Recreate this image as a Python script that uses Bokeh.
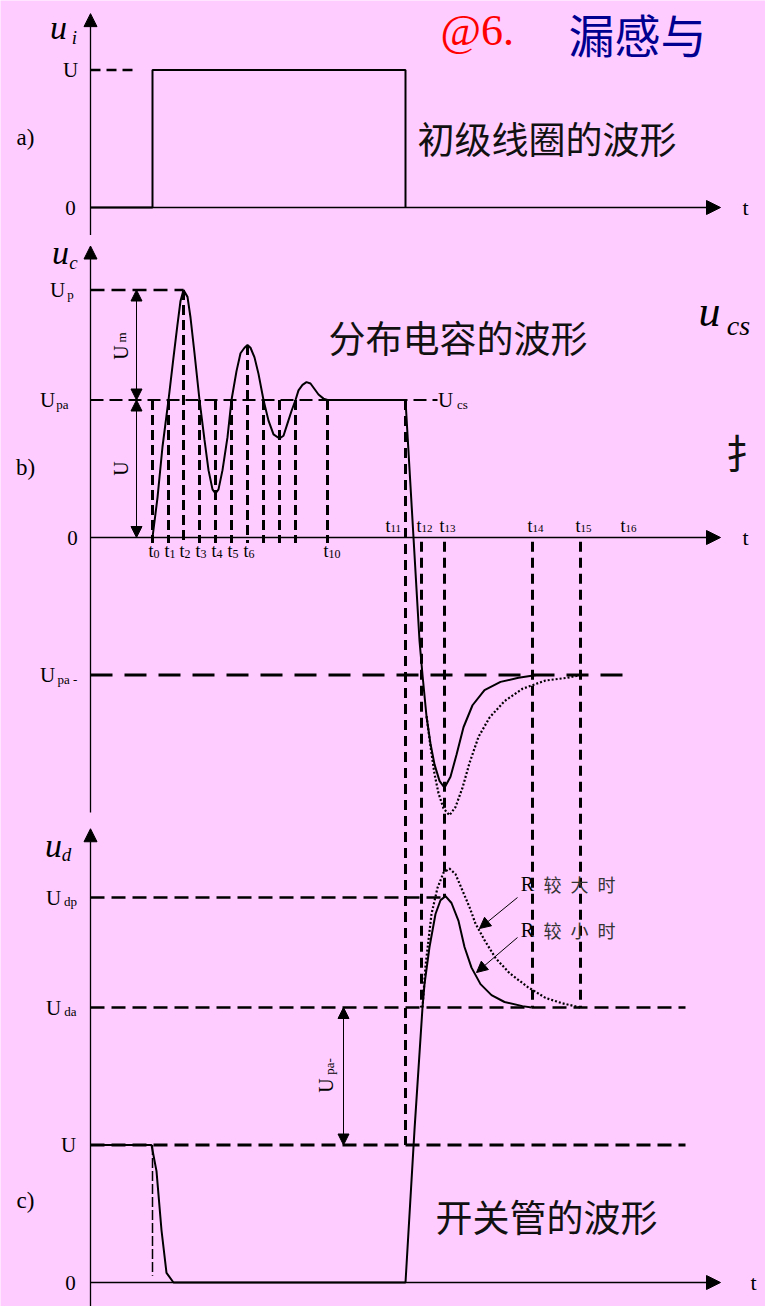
import math
import numpy as np
from bokeh.plotting import figure
from bokeh.models import Range1d, Arrow, NormalHead
from bokeh.core.properties import value
from bokeh.embed import file_html
from bokeh.resources import INLINE

# ---------------------------------------------------------------------------
# Waveform data.  Time runs along one shared axis (same scale for a, b, c);
# voltages are given in units of U for each trace.
# ---------------------------------------------------------------------------
T_START, T_END = 90, 720

# b) ringing instants t0 ... t10 (t7..t9 are unlabelled)
ring_times = [152, 168, 183, 199, 215, 231, 247, 263, 279, 295, 327]
ring_names = ["0", "1", "2", "3", "4", "5", "6", "", "", "", "10"]
# turn-off instants t11 ... t15, and the last marker t16
late_times = [405, 421, 444, 532, 580]
late_names = ["11", "12", "13", "14", "15"]
t16_time = 625

# a) primary winding voltage u_i
ui_t = [90, 152, 152, 405, 405]
ui_v = [0, 0, 1, 1, 0]

# b) distributed capacitance voltage u_c
Up, Upa, Upa_neg = 1.80, 1.00, -1.00
uc_t = [152, 157, 162, 168, 173, 177, 180, 183, 187, 190, 194, 199, 204, 208,
        212, 215, 218, 222, 227, 231, 236, 240, 244, 247, 250, 254, 258, 263,
        268, 273, 279, 283, 287, 291, 295, 298, 302, 306, 310, 314, 318, 323,
        327, 405, 413, 419, 422, 426, 430, 434, 439, 444, 450, 456, 463, 472,
        484, 500, 518, 536]
uc_v = [0.00, 0.29, 0.66, 1.00, 1.31, 1.55, 1.72, 1.80, 1.75, 1.60, 1.34, 1.00,
        0.71, 0.49, 0.35, 0.32, 0.35, 0.49, 0.73, 1.00, 1.21, 1.34, 1.38, 1.40,
        1.38, 1.31, 1.19, 1.00, 0.85, 0.75, 0.72, 0.74, 0.83, 0.92, 1.00, 1.07,
        1.11, 1.13, 1.12, 1.08, 1.04, 1.01, 1.00, 1.00, 0.00, -0.75, -1.00,
        -1.30, -1.50, -1.65, -1.77, -1.82, -1.74, -1.58, -1.38, -1.22, -1.11,
        -1.05, -1.02, -1.00]
# larger-R branch of the negative swing
uc_slow_t = [426, 430, 434, 438, 443, 449, 455, 462, 469, 478, 489, 504, 522,
             545, 567, 580]
uc_slow_v = [-1.30, -1.52, -1.72, -1.86, -1.97, -2.02, -1.96, -1.82, -1.64,
             -1.45, -1.31, -1.19, -1.10, -1.04, -1.02, -1.00]

# c) switch voltage u_d
U_sw, Uda, Udp = 1.00, 2.00, 2.80
ud_t = [90, 151, 156, 161, 166, 173, 405, 414, 422, 424, 429, 435, 440, 445,
        451, 458, 464, 471, 480, 491, 504, 522, 531]
ud_v = [1.00, 1.00, 0.81, 0.38, 0.07, 0.00, 0.00, 1.11, 2.00, 2.17, 2.44, 2.68,
        2.78, 2.81, 2.76, 2.63, 2.44, 2.29, 2.17, 2.09, 2.04, 2.01, 2.00]
ud_slow_t = [422, 425, 431, 437, 443, 449, 455, 462, 469, 475, 484, 495, 509,
             527, 545, 562, 580]
ud_slow_v = [2.00, 2.30, 2.68, 2.87, 2.98, 3.01, 2.97, 2.85, 2.73, 2.61, 2.49,
             2.36, 2.25, 2.15, 2.07, 2.03, 2.00]

# ---------------------------------------------------------------------------
# Layout: the three traces are stacked on one canvas, sharing one y scale.
# ---------------------------------------------------------------------------
W, H = 765, 1306
UNIT = 137.5                       # screen rows per U
ZERO_ROW = {"a": 207, "b": 537, "c": 1282}
BASE = {k: (ZERO_ROW["c"] - r) / UNIT for k, r in ZERO_ROW.items()}


def Y(panel, v):
    return BASE[panel] + np.asarray(v, dtype=float)


def PY(row):
    """screen row -> shared y, for placing annotation text"""
    return (ZERO_ROW["c"] - row) / UNIT


BG = "#FFCCFF"
SERIF = "Liberation Serif"
CJK = "Noto Sans CJK SC"

p = figure(width=W, height=H, x_range=Range1d(0, W), y_range=Range1d(PY(H), PY(0)),
           output_backend="svg", toolbar_location=None, min_border=0,
           x_axis_type=None, y_axis_type=None,
           background_fill_color=BG, border_fill_color=BG, outline_line_color=None)


def txt(x, y, s, size, font=SERIF, style="normal", align="center", color="black",
        angle=0.0, baseline="middle"):
    p.text(x=[x], y=[y], text=[s], text_font=value(font), text_font_size=f"{size}px",
           text_font_style=style, text_align=align, text_baseline=baseline,
           text_color=color, angle=angle)


def arrow(x0, y0, x1, y1, size=13, lw=1.3, both=False):
    head = dict(size=size, fill_color="black", line_color="black", line_width=1)
    p.add_layout(Arrow(x_start=x0, y_start=y0, x_end=x1, y_end=y1, line_width=lw,
                       line_color="black", end=NormalHead(**head),
                       start=NormalHead(**head) if both else None))


def hdash(panel, level, x0, x1, dash, lw):
    p.segment(x0=[x0], y0=[Y(panel, level)], x1=[x1], y1=[Y(panel, level)],
              line_color="black", line_width=lw, line_dash=dash)


# ---- axes ---------------------------------------------------------------
for panel, lo, hi in (("a", -0.2, 1.41), ("b", -2.0, 2.12), ("c", -0.18, 3.30)):
    arrow(T_START, Y(panel, lo), T_START, Y(panel, hi), size=13, lw=1.3)
    arrow(T_START, Y(panel, 0), T_END, Y(panel, 0), size=14, lw=1.3)

# ---- a) primary winding -------------------------------------------------
hdash("a", 1, T_START, 138, "10 6", 2.5)
p.line(ui_t, Y("a", ui_v), line_color="black", line_width=2)

# ---- b) distributed capacitance ------------------------------------------
hdash("b", Up, T_START, ring_times[2], "14 7", 2.5)
hdash("b", Upa, T_START, 437, "13 6", 2)
hdash("b", Upa_neg, T_START, 630, "22 12", 3)

ring_tops = np.maximum(Upa, np.interp(ring_times, uc_t, uc_v))
p.segment(x0=ring_times, y0=Y("b", ring_tops), x1=ring_times,
          y1=[Y("b", -0.04)] * len(ring_times),
          line_color="black", line_width=3, line_dash="10 5")

late_top = [Y("b", Upa)] + [Y("b", -0.03)] * 4
late_bottom = [Y("c", U_sw), Y("c", Uda), Y("c", Udp), Y("c", Uda), Y("c", Uda)]
p.segment(x0=late_times, y0=late_top, x1=late_times, y1=late_bottom,
          line_color="black", line_width=3, line_dash="10 6")

p.line(uc_t, Y("b", uc_v), line_color="black", line_width=2)
p.line(uc_slow_t, Y("b", uc_slow_v), line_color="black", line_width=2.2, line_dash="2 2")

arrow(136, Y("b", Upa), 136, Y("b", Up), size=11, lw=1, both=True)
arrow(136, Y("b", 0), 136, Y("b", Upa), size=11, lw=1, both=True)

# ---- c) switch ------------------------------------------------------------
hdash("c", Udp, T_START, late_times[2], "14 7", 2.5)
hdash("c", Uda, T_START, 685, "14 7", 2.5)
hdash("c", U_sw, T_START, 685, "14 7", 3)
p.segment(x0=[ring_times[0]], y0=[Y("c", U_sw)], x1=[ring_times[0]], y1=[Y("c", 0.05)],
          line_color="black", line_width=1.5, line_dash="10 3")

p.line(ud_t, Y("c", ud_v), line_color="black", line_width=2)
p.line(ud_slow_t, Y("c", ud_slow_v), line_color="black", line_width=2.2, line_dash="2 2")

arrow(343, Y("c", U_sw), 343, Y("c", Uda), size=11, lw=1, both=True)
arrow(517, PY(897), 479, PY(928), size=11, lw=1)
arrow(517, PY(937), 476, PY(972), size=11, lw=1)

# ---- text -----------------------------------------------------------------
# title line
txt(440, PY(30), "@6.", 44, align="left", color="#FF0000")
txt(568, PY(32), "漏感与", 46, font=CJK, align="left", color="#000090")

# a)
txt(58, PY(27), "u", 34, style="italic")
txt(74, PY(37), "i", 19, style="italic")
txt(70, Y("a", 1), "U", 21)
txt(70, Y("a", 0), "0", 21)
txt(25, PY(137), "a)", 23)
txt(417, PY(137), "初级线圈的波形", 37, font=CJK, align="left", color="#111111")
txt(745, Y("a", 0), "t", 22)

# b)
txt(60, PY(252), "u", 34, style="italic")
txt(73, PY(262), "c", 19, style="italic")
txt(57, Y("b", Up), "U", 21)
txt(70, Y("b", Up) - 0.03, "p", 13)
txt(47, Y("b", Upa), "U", 21)
txt(62, Y("b", Upa) - 0.03, "pa", 13)
txt(72, Y("b", 0), "0", 21)
txt(25, PY(467), "b)", 23)
txt(47, Y("b", Upa_neg), "U", 21)
txt(67, Y("b", Upa_neg) - 0.03, "pa -", 13)
txt(445, Y("b", Upa), "U", 21)
txt(462, Y("b", Upa) - 0.03, "cs", 13)
txt(328, PY(336), "分布电容的波形", 37, font=CJK, align="left", color="#111111")
txt(745, Y("b", 0), "t", 22)
txt(120, PY(352), "U", 20, angle=math.pi / 2)
txt(121, PY(337), "m", 13, angle=math.pi / 2)
txt(120, PY(468), "U", 20, angle=math.pi / 2)

for t, n in zip(ring_times, ring_names):
    if n:
        txt(t + 1, PY(550), "t", 18, align="right")
        txt(t + 1, PY(553), n, 12, align="left")
for t, n in zip(late_times + [t16_time], late_names + ["16"]):
    x = t - 15 if n == "11" else t
    txt(x, PY(525), "t", 18, align="right")
    txt(x, PY(528), n, 11, align="left")

txt(709, PY(311), "u", 44, style="italic")
txt(738, PY(325), "cs", 28, style="italic")
txt(765, PY(451), "扌", 40, font=CJK, align="right", color="#111111")

# c)
txt(53, PY(845), "u", 34, style="italic")
txt(66, PY(854), "d", 19, style="italic")
txt(53, Y("c", Udp), "U", 21)
txt(70, Y("c", Udp) - 0.03, "dp", 13)
txt(53, Y("c", Uda), "U", 21)
txt(70, Y("c", Uda) - 0.03, "da", 13)
txt(68, Y("c", U_sw), "U", 21)
txt(70, Y("c", 0), "0", 21)
txt(25, PY(1200), "c)", 23)
txt(753, Y("c", 0), "t", 22)
txt(325, PY(1085), "U", 20, angle=math.pi / 2)
txt(329, PY(1066), "pa-", 13, angle=math.pi / 2)
txt(527, PY(883), "R", 20)
txt(543, PY(883), "较\u2002大\u2002时", 18, font=CJK, align="left", color="#333333")
txt(527, PY(929), "R", 20)
txt(543, PY(929), "较\u2002小\u2002时", 18, font=CJK, align="left", color="#333333")
txt(435, PY(1215), "开关管的波形", 37, font=CJK, align="left", color="#111111")

open("out.html", "w").write(file_html(p, INLINE))
